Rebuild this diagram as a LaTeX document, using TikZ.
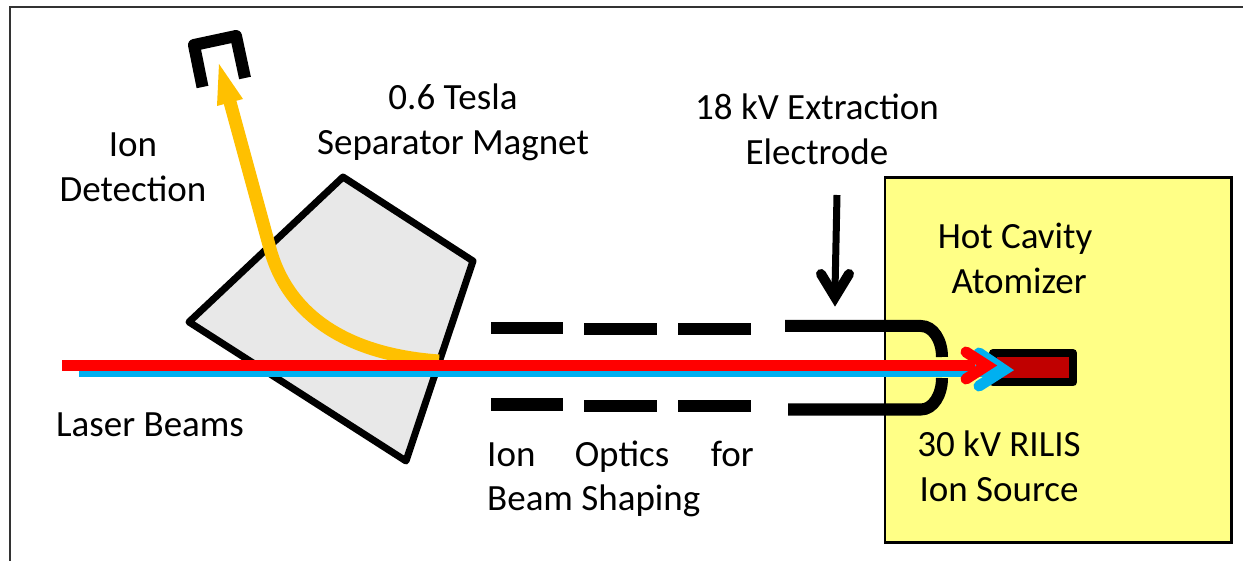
\documentclass[tikz,border=0pt]{standalone}
\usepackage{fontspec}
\setmainfont{Carlito}
\definecolor{hot}{RGB}{255,255,134}
\definecolor{mag}{RGB}{232,232,232}
\definecolor{gold}{RGB}{255,192,0}
\definecolor{sky}{RGB}{0,176,240}
\definecolor{core}{RGB}{192,0,0}
\tikzset{
  x=1pt,y=-1pt,
  lab/.style={font=\fontsize{37}{45}\selectfont,inner sep=0pt,align=center,text=black},
  lone/.style={font=\fontsize{37}{45}\selectfont,inner sep=0pt,text=black},
  elec/.style={line width=12pt,draw=black},
}
\begin{document}
\begin{tikzpicture}
\useasboundingbox (0,0) rectangle (1243,561);
% frame
\coordinate (fa) at (10,561);
\coordinate (fb) at (10,7);
\coordinate (fc) at (1243,7);
\draw[line width=2pt,draw=black!80] (fa) -- (fb) -- (fc);
% source box
\node[draw=black,line width=2.5pt,fill=hot,minimum width=346.5pt,minimum height=364.5pt,inner sep=0pt,anchor=north west] (box) at (883.5,176.5) {};
% magnet
\draw[line width=7pt,draw=black,line join=round,fill=mag] (343,177) -- (473,261) -- (406,461) -- (189,322) -- cycle;
% detector
\draw[line width=12pt,draw=black,line join=round] (202.5,87) -- (194,45) -- (236,36) -- (245,78);
% gold
\draw[line width=13pt,draw=gold] (439,361) .. controls (340,354) and (285,310) .. (269,245) -- (230,102);
\fill[gold] (219,64) -- (243,99) -- (217,106) -- cycle;
% electrodes
\draw[elec] (491,328.5) -- (563,328.5);
\draw[elec] (584,328.7) -- (657,328.7);
\draw[elec] (678,328.7) -- (751,328.7);
\draw[elec] (491,404.5) -- (563,404.5);
\draw[elec] (584,406) -- (657,406);
\draw[elec] (678,406) -- (751,406);
\draw[elec] (785,326) -- (921,326) .. controls (933,326) and (942,340) .. (942,357);
\draw[elec] (788,409.5) -- (921,409.5) .. controls (933,409.5) and (942,395) .. (942,378);
% core
\draw[line width=8pt,draw=black,fill=core,line join=round] (993,353) rectangle (1073,382.5);
% blue beam
\draw[line width=11.5pt,draw=sky] (79,371) -- (995,371);
\draw[line width=11pt,draw=sky,line cap=round,line join=miter] (979,353) -- (1004,370) -- (979,386);
% red beam
\draw[line width=11pt,draw=red] (62,365.5) -- (975,365.5);
\draw[line width=11pt,draw=red,line cap=round,line join=miter] (966,352) -- (987,365.5) -- (966,379);
% arrow
\coordinate (aa) at (837,195);
\draw[line width=7pt] (aa) -- (835,290);
\draw[line width=10pt,line cap=round,line join=miter] (821,274) -- (835,297) -- (849,274);
% labels
\node[lab] (t1) at (133,167) {Ion\\Detection};
\node[lab] (t2) at (453,122) {0.6 Tesla\\Separator Magnet};
\node[lab] (t3) at (817,129) {18 kV Extraction\\Electrode};
\node[lab] (t4) at (1015,258) {Hot Cavity\\\ Atomizer};
\node[lone,anchor=base west] (t5) at (56,436) {Laser Beams};
\node[lone,anchor=base west] (t6) at (487,466) {Ion};
\node[lone,anchor=base] (t7) at (622,466) {Optics};
\node[lone,anchor=base east] (t8) at (754,466) {for};
\node[lone,anchor=base west] (t9) at (487,510) {Beam Shaping};
\node[lab] (t10) at (999,466) {30 kV RILIS\\Ion Source};
\end{tikzpicture}
\end{document}
